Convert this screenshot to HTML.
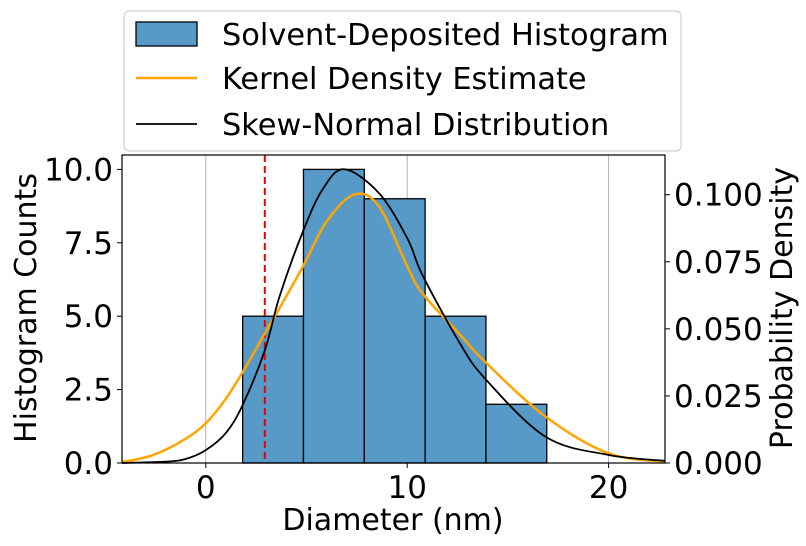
<!DOCTYPE html>
<html><head><meta charset="utf-8"><style>
body{margin:0;background:#fff;}
svg{display:block;font-family:"DejaVu Sans","Liberation Sans",sans-serif;}
</style></head><body>
<svg id="chart" width="806" height="546" viewBox="0 0 806 546">
<g id="grid"></g>
<g id="bars"></g>
<g id="lines"></g>
<g id="axes"></g>
<g id="legend"></g>
</svg>
<script>
const binStart = 1.83;
const binWidth = 3.02;
const counts = [5, 10, 9, 5, 2];
const refLine = 2.93;
const kdeX = [-4.16, -2.6, -1, 0, 1, 2, 2.93, 3.66, 4.82, 6, 7.38, 8.61, 10.01, 10.76, 12.57, 13.85, 16.87, 20, 22.8];
const kdeY = [0.0003, 0.003, 0.009, 0.0148, 0.024, 0.036, 0.0483, 0.0577, 0.0732, 0.09, 0.1001, 0.0955, 0.0732, 0.0632, 0.0483, 0.0378, 0.0173, 0.0036, 0.0005];
const skewX = [-4.16, -2, -1, 0, 1, 1.83, 2.93, 3.66, 4.82, 5.8, 6.88, 8.61, 10.01, 10.76, 12.57, 13.85, 16.87, 20, 22.8];
const skewY = [0.0000, 0.0005, 0.0015, 0.0048, 0.0112, 0.0216, 0.042, 0.062, 0.0862, 0.102, 0.1095, 0.1005, 0.0837, 0.070, 0.0452, 0.0316, 0.0098, 0.003, 0.0008];
const xTicks = [0, 10, 20];
const leftTicks = [0, 2.5, 5, 7.5, 10];
const leftTickLabels = ["0.0", "2.5", "5.0", "7.5", "10.0"];
const rightTicks = [0, 0.025, 0.05, 0.075, 0.1];
const rightTickLabels = ["0.000", "0.025", "0.050", "0.075", "0.100"];

const L = 122, R = 665, T = 155, B = 463;
const xMin = -4.16, xMax = 22.8;
const yLMax = 10.49, yRMax = 0.1148;
const sx = v => L + (v - xMin) / (xMax - xMin) * (R - L);
const syL = v => B - v / yLMax * (B - T);
const syR = v => B - v / yRMax * (B - T);
const NS = "http://www.w3.org/2000/svg";
function mk(tag, attrs, parent) {
  const e = document.createElementNS(NS, tag);
  for (const k in attrs) e.setAttribute(k, attrs[k]);
  parent.appendChild(e);
  return e;
}
const grid = document.getElementById('grid');
xTicks.forEach(t => {
  const g = mk('line', {x1: sx(t), x2: sx(t), y1: T, y2: B, stroke: '#b0b0b0', 'stroke-width': 1}, grid);
  
  
});
const bars = document.getElementById('bars');
counts.forEach((c, i) => {
  const x0 = binStart + i * binWidth;
  const r = mk('rect', {x: sx(x0), y: syL(c), width: sx(x0 + binWidth) - sx(x0), height: B - syL(c), fill: '#5799c7', stroke: '#000', 'stroke-width': 1.3}, bars);
  
  
});
function smooth(xs, ys) {
  const p = xs.map((x, i) => [sx(x), syR(ys[i])]);
  let d = 'M' + p[0][0] + ',' + p[0][1];
  for (let i = 0; i < p.length - 1; i++) {
    const p0 = p[Math.max(0, i - 1)], p1 = p[i], p2 = p[i + 1], p3 = p[Math.min(p.length - 1, i + 2)];
    const c1 = [p1[0] + (p2[0] - p0[0]) / 6, p1[1] + (p2[1] - p0[1]) / 6];
    const c2 = [p2[0] - (p3[0] - p1[0]) / 6, p2[1] - (p3[1] - p1[1]) / 6];
    d += 'C' + c1 + ' ' + c2 + ' ' + p2;
  }
  return d;
}
const lines = document.getElementById('lines');
const rl = mk('line', {x1: sx(refLine), x2: sx(refLine), y1: T, y2: B, stroke: '#e00', 'stroke-width': 2, 'stroke-dasharray': '7,4'}, lines);


const kd = mk('path', {d: smooth(kdeX, kdeY), fill: 'none', stroke: '#ffa500', 'stroke-width': 2.5}, lines);


const sk = mk('path', {d: smooth(skewX, skewY), fill: 'none', stroke: '#000', 'stroke-width': 1.8}, lines);



const axes = document.getElementById('axes');
const fr = mk('rect', {x: L, y: T, width: R - L, height: B - T, fill: 'none', stroke: '#000', 'stroke-width': 1.2}, axes);


xTicks.forEach(t => {
  mk('line', {x1: sx(t), x2: sx(t), y1: B, y2: B + 5, stroke: '#000'}, axes);
  const tx = mk('text', {x: sx(t), y: B + 35, 'text-anchor': 'middle', 'font-size': 31}, axes);
  tx.textContent = t;
  
  
});
leftTicks.forEach((t, i) => {
  mk('line', {x1: L - 5, x2: L, y1: syL(t), y2: syL(t), stroke: '#000'}, axes);
  const tx = mk('text', {x: L - 9, y: syL(t) + 11, 'text-anchor': 'end', 'font-size': 31}, axes);
  tx.textContent = leftTickLabels[i];
  
  
});
rightTicks.forEach((t, i) => {
  mk('line', {x1: R, x2: R + 5, y1: syR(t), y2: syR(t), stroke: '#000'}, axes);
  const tx = mk('text', {x: R + 9, y: syR(t) + 11, 'text-anchor': 'start', 'font-size': 31}, axes);
  tx.textContent = rightTickLabels[i];
  
  
});
</script>
<script>
(function(){
const NS = "http://www.w3.org/2000/svg";
const axes = document.getElementById('axes');
function t(txt, attrs, name){
  const e = document.createElementNS(NS,'text');
  for (const k in attrs) e.setAttribute(k, attrs[k]);
  e.textContent = txt;
  
  
  return e;
}
axes.appendChild(t('Diameter (nm)', {x:393, y:530, 'text-anchor':'middle', 'font-size':30}, 'x-axis-title'));
axes.appendChild(t('Histogram Counts', {x:0, y:0, 'text-anchor':'middle', 'font-size':30, transform:'translate(36,308) rotate(-90)'}, 'left-y-axis-title'));
axes.appendChild(t('Probability Density', {x:0, y:0, 'text-anchor':'middle', 'font-size':30, transform:'translate(792,308) rotate(-90)'}, 'right-y-axis-title'));
const lg = document.getElementById('legend');
const box = document.createElementNS(NS,'rect');
[['x',124],['y',11],['width',557],['height',140],['rx',5],['fill','#fff'],['stroke','#d0d0d0'],['stroke-width',1.2]].forEach(a=>box.setAttribute(a[0],a[1]));


lg.appendChild(box);
const sw = document.createElementNS(NS,'rect');
[['x',136],['y',22],['width',61],['height',24],['fill','#5799c7'],['stroke','#000'],['stroke-width',1.3]].forEach(a=>sw.setAttribute(a[0],a[1]));


lg.appendChild(sw);
const l1 = document.createElementNS(NS,'line');
[['x1',136],['x2',197],['y1',78],['y2',78],['stroke','#ffa500'],['stroke-width',2.5]].forEach(a=>l1.setAttribute(a[0],a[1]));


lg.appendChild(l1);
const l2 = document.createElementNS(NS,'line');
[['x1',136],['x2',197],['y1',124],['y2',124],['stroke','#000'],['stroke-width',1.8]].forEach(a=>l2.setAttribute(a[0],a[1]));


lg.appendChild(l2);
lg.appendChild(t('Solvent-Deposited Histogram', {x:222, y:45, 'font-size':30.4}, 'legend-entry'));
lg.appendChild(t('Kernel Density Estimate', {x:222, y:89, 'font-size':30.4}, 'legend-entry'));
lg.appendChild(t('Skew-Normal Distribution', {x:222, y:135, 'font-size':30.4}, 'legend-entry'));
})();
</script>
</body></html>
